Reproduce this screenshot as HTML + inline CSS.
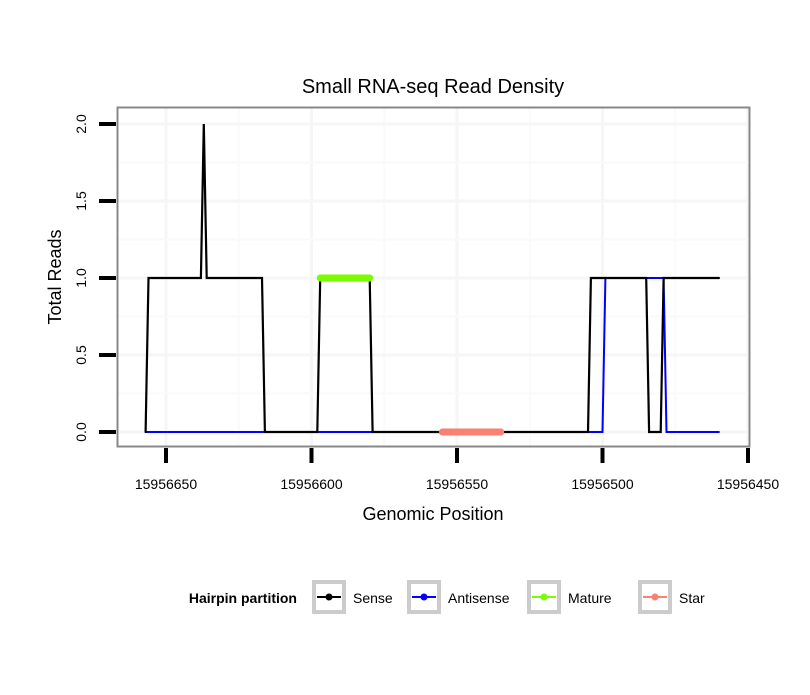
<!DOCTYPE html>
<html><head><meta charset="utf-8"><style>
body{margin:0;background:#fff;}
svg text{font-family:"Liberation Sans",Arial,sans-serif;}
</style></head><body>
<svg id="chart" width="810" height="690" viewBox="0 0 810 690" xmlns="http://www.w3.org/2000/svg">
<rect width="810" height="690" fill="#fff"/>
<text x="433" y="93" font-size="20" text-anchor="middle">Small RNA-seq Read Density</text>
<g id="grid"></g>
<g id="series"></g>
<rect x="117.5" y="107.5" width="632" height="339" fill="none" stroke="#888" stroke-width="2"/>
<g id="axes"></g>
<text x="433" y="520" font-size="18" text-anchor="middle">Genomic Position</text>
<text x="0" y="0" font-size="18" text-anchor="middle" transform="translate(61,277) rotate(-90)">Total Reads</text>
<g>
<text x="297" y="603" font-size="14" font-weight="bold" text-anchor="end">Hairpin partition</text>
<g id="legend"></g>
</g>
</svg>
<script>
const xTicks=[15956650,15956600,15956550,15956500,15956450];
const yTicks=[0,0.5,1.0,1.5,2.0];
const yTickLabels=["0.0","0.5","1.0","1.5","2.0"];
const sensePos=[15956657,15956656,15956638,15956637,15956636,15956617,15956616,15956598,15956597,15956580,15956579,15956505,15956504,15956485,15956484,15956480,15956479,15956460];
const senseVal=[0,1,1,2,1,1,0,0,1,1,0,0,1,1,0,0,1,1];
const antiPos=[15956657,15956500,15956499,15956479,15956478,15956460];
const antiVal=[0,0,1,1,0,0];
const maturePos=[15956597,15956580];
const matureVal=[1,1];
const starPos=[15956555,15956535];
const starVal=[0,0];
const legendLabels=["Sense","Antisense","Mature","Star"];
const legendColors=["#000","#0000ff","#7cfc00","#fa8072"];

const NS="http://www.w3.org/2000/svg";
function X(p){return 166+(15956650-p)*2.91;}
function Y(v){return 432-v*154;}
function mk(tag,attrs,parent){const e=document.createElementNS(NS,tag);for(const k in attrs)e.setAttribute(k,attrs[k]);parent.appendChild(e);return e;}
const grid=document.getElementById('grid'),axes=document.getElementById('axes'),ser=document.getElementById('series'),leg=document.getElementById('legend');
for(let i=0;i<xTicks.length;i++){
  let g=mk('line',{x1:X(xTicks[i]),x2:X(xTicks[i]),y1:108,y2:446,stroke:'#f6f6f6','stroke-width':3},grid);
  
  
  if(i<xTicks.length-1){const m=(xTicks[i]+xTicks[i+1])/2;
    let g2=mk('line',{x1:X(m),x2:X(m),y1:108,y2:446,stroke:'#fafafa','stroke-width':2},grid);
    
    }
  let t=mk('line',{x1:X(xTicks[i]),x2:X(xTicks[i]),y1:448,y2:463,stroke:'#000','stroke-width':4},axes);
  
  
  let l=mk('text',{x:X(xTicks[i]),y:489,'font-size':14,'text-anchor':'middle'},axes);l.textContent=xTicks[i];
  
  
}
for(let i=0;i<yTicks.length;i++){
  let g=mk('line',{x1:118,x2:749,y1:Y(yTicks[i]),y2:Y(yTicks[i]),stroke:'#f6f6f6','stroke-width':3},grid);
  
  
  if(i<yTicks.length-1){const m=(yTicks[i]+yTicks[i+1])/2;
    let g2=mk('line',{x1:118,x2:749,y1:Y(m),y2:Y(m),stroke:'#fafafa','stroke-width':2},grid);
    
    }
  let t=mk('line',{x1:99,x2:116,y1:Y(yTicks[i]),y2:Y(yTicks[i]),stroke:'#000','stroke-width':4},axes);
  
  
  let l=mk('text',{x:0,y:0,'font-size':14,'text-anchor':'middle',transform:`translate(86,${Y(yTicks[i])}) rotate(-90)`},axes);l.textContent=yTickLabels[i];
  
  
}
function path(P,V,color,w,name){
  const d=P.map((p,i)=>(i?'L':'M')+X(p).toFixed(1)+' '+Y(V[i]).toFixed(1)).join(' ');
  const e=mk('path',{d:d,fill:'none',stroke:color,'stroke-width':w,'stroke-linecap':'round','stroke-linejoin':'miter'},ser);
  
  
}
path(antiPos,antiVal,'#0000ff',2,'antisense-line');
path(sensePos,senseVal,'#000',2.2,'sense-line');
path(maturePos,matureVal,'#7cfc00',7,'mature-line');
path(starPos,starVal,'#fa8072',7,'star-line');
const lx=[312,407,527,638];
for(let i=0;i<legendLabels.length;i++){
  const g=mk('g',{},leg);
  
  
  mk('rect',{x:lx[i]+2,y:582,width:30,height:30,fill:'#fff',stroke:'#ccc','stroke-width':4},g);
  mk('line',{x1:lx[i]+5,x2:lx[i]+29,y1:597,y2:597,stroke:legendColors[i],'stroke-width':2},g);
  mk('circle',{cx:lx[i]+17,cy:597,r:3.5,fill:legendColors[i]},g);
  const t=mk('text',{x:lx[i]+41,y:603,'font-size':14},g);t.textContent=legendLabels[i];
}
</script>
</body></html>
